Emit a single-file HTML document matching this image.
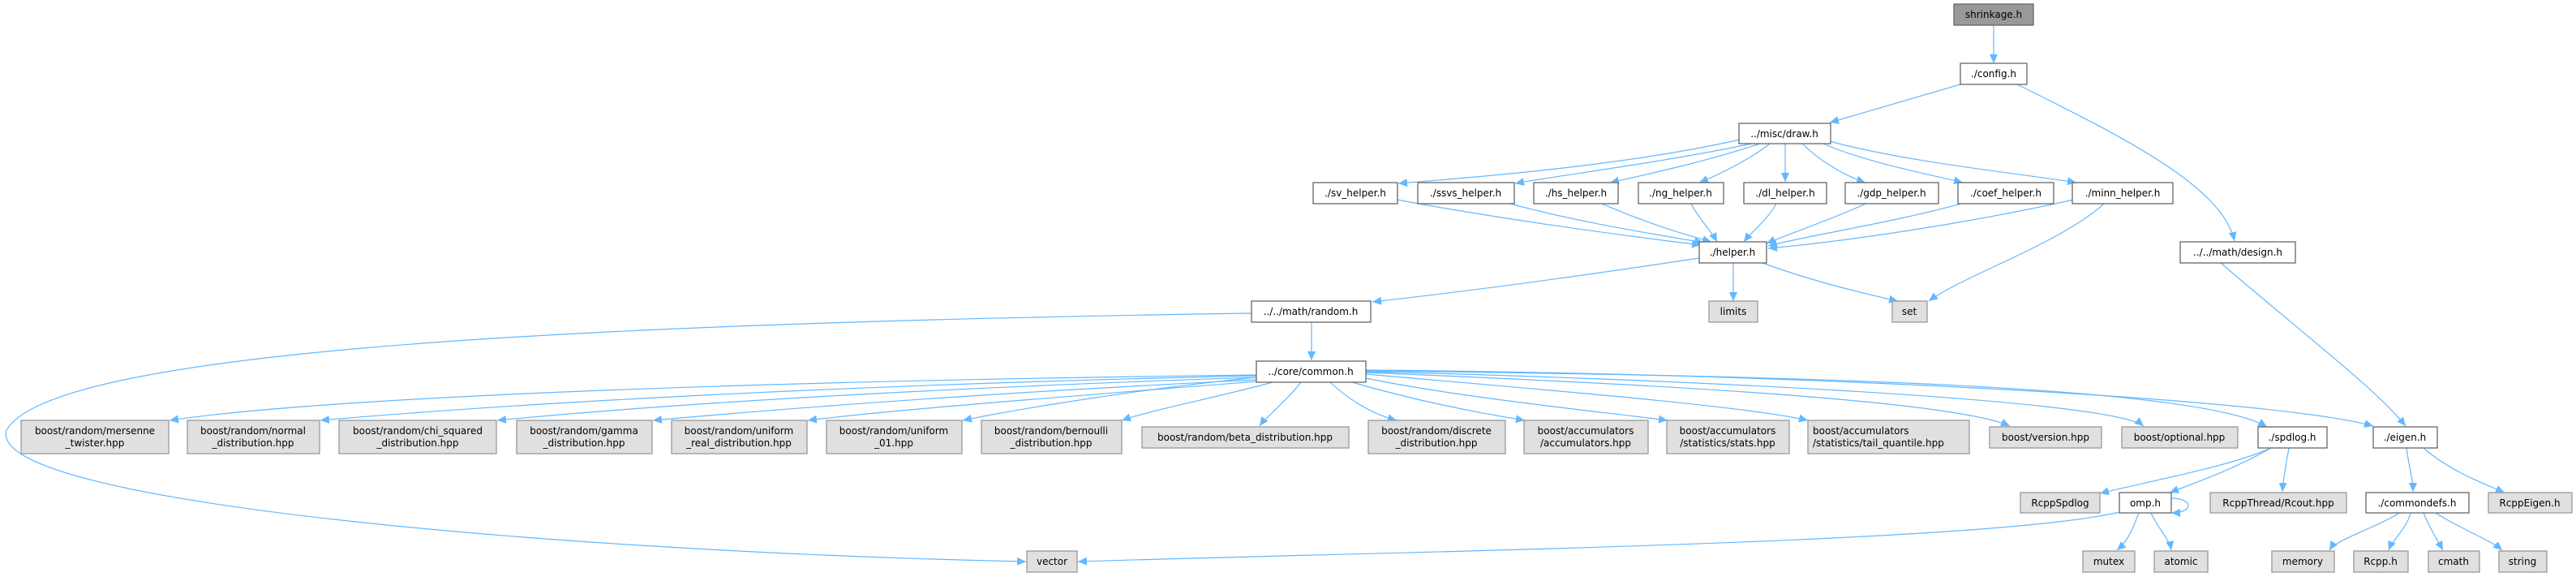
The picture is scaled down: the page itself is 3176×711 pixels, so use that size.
<!DOCTYPE html>
<html><head><meta charset="utf-8"><style>
html,body{margin:0;padding:0;background:#fff;}
svg{display:block;}
text{font-family:"DejaVu Sans","Liberation Sans",sans-serif;font-size:12px;fill:#000;}
.w{fill:#fff;stroke:#666;stroke-width:1.3;}
.g{fill:#e0e0e0;stroke:#999;stroke-width:1.3;}
.e{fill:none;stroke:#63b8ff;stroke-width:1.2;}
</style></head><body>
<svg width="3176" height="711" viewBox="0 0 3176 711" xmlns="http://www.w3.org/2000/svg">
<defs><marker id="a" markerUnits="userSpaceOnUse" markerWidth="12" markerHeight="10" refX="11" refY="5" orient="auto"><path d="M0,0 L11,5 L0,10 z" fill="#63b8ff"/></marker></defs>
<g class="e" marker-end="url(#a)">
<path d="M2458,31 L2458,78"/>
<path d="M2417,104 L2256,151"/>
<path d="M2487,104 C2620,170 2740,230 2755,297"/>
<path d="M2145,172 C2000,205 1800,220 1724,226"/>
<path d="M2160,177 C2050,200 1930,215 1868,226"/>
<path d="M2170,177 C2100,200 2030,215 1985,225"/>
<path d="M2182,177 C2160,195 2120,215 2095,225"/>
<path d="M2201,177 L2201,224"/>
<path d="M2222,177 C2240,195 2270,215 2300,225"/>
<path d="M2248,177 C2300,200 2380,215 2420,225"/>
<path d="M2256,174 C2350,200 2500,215 2560,225"/>
<path d="M1722,246 C1850,270 2000,290 2097,302"/>
<path d="M1862,251 C1950,275 2050,290 2100,299"/>
<path d="M1975,251 C2030,275 2080,290 2110,298"/>
<path d="M2085,251 C2095,270 2110,285 2117,298"/>
<path d="M2190,251 C2180,270 2160,285 2150,298"/>
<path d="M2300,251 C2260,270 2200,290 2178,300"/>
<path d="M2418,251 C2330,275 2230,290 2180,303"/>
<path d="M2557,246 C2450,270 2300,295 2180,306"/>
<path d="M2594,251 C2540,300 2420,340 2378,371"/>
<path d="M2095,318 C1950,340 1800,360 1692,372"/>
<path d="M2137,324 L2137,371"/>
<path d="M2173,324 C2230,345 2290,360 2340,371"/>
<path d="M1617,397 L1617,444"/>
<path d="M1543,386 C600,400 60,440 8,530 C-20,620 700,680 1265,692"/>
<path d="M2613,631 C2450,670 1700,680 1329,692"/>
<path d="M2738,324 C2850,420 2930,480 2966,525"/>
<path d="M1549,462 C900,470 400,490 209,518"/>
<path d="M1549,463 C1000,475 600,500 395,518"/>
<path d="M1549,465 C1100,480 800,500 613,518"/>
<path d="M1549,468 C1200,485 950,505 805,518"/>
<path d="M1549,470 C1300,490 1100,505 996,518"/>
<path d="M1549,465 C1400,480 1250,505 1187,518"/>
<path d="M1569,471 C1500,490 1420,505 1383,518"/>
<path d="M1604,471 C1590,490 1560,515 1553,525"/>
<path d="M1640,471 C1660,490 1690,510 1722,518"/>
<path d="M1667,471 C1750,495 1830,510 1880,518"/>
<path d="M1684,466 C1800,490 1980,508 2056,518"/>
<path d="M1684,461 C1900,480 2150,500 2229,518"/>
<path d="M1684,459 C1950,470 2400,490 2478,525"/>
<path d="M1684,458 C2000,465 2600,490 2643,525"/>
<path d="M1684,457 C2100,462 2700,470 2795,526"/>
<path d="M1684,456 C2200,460 2800,490 2926,525"/>
<path d="M2800,552 C2750,575 2640,595 2589,608"/>
<path d="M2800,552 C2760,575 2720,590 2675,607"/>
<path d="M2822,552 C2818,575 2815,590 2814,606"/>
<path d="M2677,614 C2705,614 2705,632 2677,632"/>
<path d="M2637,632 C2630,650 2625,665 2610,678"/>
<path d="M2652,632 C2660,650 2675,665 2677,678"/>
<path d="M2967,552 C2970,575 2975,590 2975,606"/>
<path d="M2988,552 C3020,580 3060,595 3088,607"/>
<path d="M2958,632 C2930,650 2880,665 2872,678"/>
<path d="M2972,632 C2968,650 2950,665 2945,678"/>
<path d="M2988,632 C2995,650 3005,665 3012,678"/>
<path d="M3003,632 C3030,650 3070,665 3085,678"/>
</g>
<g>
<rect x="2409" y="5" width="98" height="26" fill="#999" stroke="#666" stroke-width="1.3"/><text x="2458" y="22" text-anchor="middle">shrinkage.h</text>
<rect class="w" x="2417" y="78" width="82" height="26"/><text x="2458" y="95" text-anchor="middle">./config.h</text>
<rect class="w" x="2144" y="152" width="113" height="25"/><text x="2200" y="169" text-anchor="middle">../misc/draw.h</text>
<rect class="w" x="1619" y="225" width="104" height="26"/><text x="1671" y="242" text-anchor="middle">./sv_helper.h</text>
<rect class="w" x="1748" y="225" width="119" height="26"/><text x="1807" y="242" text-anchor="middle">./ssvs_helper.h</text>
<rect class="w" x="1891" y="225" width="104" height="26"/><text x="1943" y="242" text-anchor="middle">./hs_helper.h</text>
<rect class="w" x="2020" y="225" width="105" height="26"/><text x="2072" y="242" text-anchor="middle">./ng_helper.h</text>
<rect class="w" x="2150" y="225" width="102" height="26"/><text x="2201" y="242" text-anchor="middle">./dl_helper.h</text>
<rect class="w" x="2275" y="225" width="115" height="26"/><text x="2332" y="242" text-anchor="middle">./gdp_helper.h</text>
<rect class="w" x="2414" y="225" width="118" height="26"/><text x="2473" y="242" text-anchor="middle">./coef_helper.h</text>
<rect class="w" x="2555" y="225" width="124" height="26"/><text x="2617" y="242" text-anchor="middle">./minn_helper.h</text>
<rect class="w" x="2095" y="298" width="83" height="26"/><text x="2136" y="315" text-anchor="middle">./helper.h</text>
<rect class="w" x="2688" y="298" width="142" height="26"/><text x="2759" y="315" text-anchor="middle">../../math/design.h</text>
<rect class="w" x="1543" y="371" width="147" height="26"/><text x="1616" y="388" text-anchor="middle">../../math/random.h</text>
<rect class="g" x="2107" y="371" width="60" height="26"/><text x="2137" y="388" text-anchor="middle">limits</text>
<rect class="g" x="2333" y="371" width="43" height="26"/><text x="2354" y="388" text-anchor="middle">set</text>
<rect class="w" x="1549" y="445" width="135" height="26"/><text x="1616" y="462" text-anchor="middle">../core/common.h</text>
<rect class="g" x="26" y="518" width="182" height="41"/><text x="117" y="535" text-anchor="middle">boost/random/mersenne</text><text x="117" y="550" text-anchor="middle">_twister.hpp</text>
<rect class="g" x="231" y="518" width="163" height="41"/><text x="312" y="535" text-anchor="middle">boost/random/normal</text><text x="312" y="550" text-anchor="middle">_distribution.hpp</text>
<rect class="g" x="418" y="518" width="194" height="41"/><text x="515" y="535" text-anchor="middle">boost/random/chi_squared</text><text x="515" y="550" text-anchor="middle">_distribution.hpp</text>
<rect class="g" x="637" y="518" width="167" height="41"/><text x="720" y="535" text-anchor="middle">boost/random/gamma</text><text x="720" y="550" text-anchor="middle">_distribution.hpp</text>
<rect class="g" x="828" y="518" width="167" height="41"/><text x="911" y="535" text-anchor="middle">boost/random/uniform</text><text x="911" y="550" text-anchor="middle">_real_distribution.hpp</text>
<rect class="g" x="1019" y="518" width="167" height="41"/><text x="1102" y="535" text-anchor="middle">boost/random/uniform</text><text x="1102" y="550" text-anchor="middle">_01.hpp</text>
<rect class="g" x="1210" y="518" width="173" height="41"/><text x="1296" y="535" text-anchor="middle">boost/random/bernoulli</text><text x="1296" y="550" text-anchor="middle">_distribution.hpp</text>
<rect class="g" x="1408" y="526" width="255" height="26"/><text x="1535" y="543" text-anchor="middle">boost/random/beta_distribution.hpp</text>
<rect class="g" x="1687" y="518" width="169" height="41"/><text x="1771" y="535" text-anchor="middle">boost/random/discrete</text><text x="1771" y="550" text-anchor="middle">_distribution.hpp</text>
<rect class="g" x="1879" y="518" width="153" height="41"/><text x="1955" y="535" text-anchor="middle">boost/accumulators</text><text x="1955" y="550" text-anchor="middle">/accumulators.hpp</text>
<rect class="g" x="2055" y="518" width="151" height="41"/><text x="2130" y="535" text-anchor="middle">boost/accumulators</text><text x="2130" y="550" text-anchor="middle">/statistics/stats.hpp</text>
<rect class="g" x="2229" y="518" width="199" height="41"/><text x="2235" y="535">boost/accumulators</text><text x="2235" y="550">/statistics/tail_quantile.hpp</text>
<rect class="g" x="2453" y="526" width="138" height="26"/><text x="2522" y="543" text-anchor="middle">boost/version.hpp</text>
<rect class="g" x="2616" y="526" width="143" height="26"/><text x="2687" y="543" text-anchor="middle">boost/optional.hpp</text>
<rect class="w" x="2784" y="526" width="85" height="26"/><text x="2826" y="543" text-anchor="middle">./spdlog.h</text>
<rect class="w" x="2926" y="526" width="79" height="26"/><text x="2965" y="543" text-anchor="middle">./eigen.h</text>
<rect class="g" x="2491" y="607" width="98" height="25"/><text x="2540" y="624" text-anchor="middle">RcppSpdlog</text>
<rect class="w" x="2613" y="607" width="64" height="25"/><text x="2645" y="624" text-anchor="middle">omp.h</text>
<rect class="g" x="2725" y="607" width="168" height="25"/><text x="2809" y="624" text-anchor="middle">RcppThread/Rcout.hpp</text>
<rect class="w" x="2917" y="607" width="127" height="25"/><text x="2980" y="624" text-anchor="middle">./commondefs.h</text>
<rect class="g" x="3068" y="607" width="103" height="25"/><text x="3119" y="624" text-anchor="middle">RcppEigen.h</text>
<rect class="g" x="2568" y="679" width="64" height="26"/><text x="2600" y="696" text-anchor="middle">mutex</text>
<rect class="g" x="2656" y="679" width="66" height="26"/><text x="2689" y="696" text-anchor="middle">atomic</text>
<rect class="g" x="2801" y="679" width="77" height="26"/><text x="2839" y="696" text-anchor="middle">memory</text>
<rect class="g" x="2902" y="679" width="67" height="26"/><text x="2935" y="696" text-anchor="middle">Rcpp.h</text>
<rect class="g" x="2994" y="679" width="63" height="26"/><text x="3025" y="696" text-anchor="middle">cmath</text>
<rect class="g" x="3081" y="679" width="59" height="26"/><text x="3110" y="696" text-anchor="middle">string</text>
<rect class="g" x="1266" y="679" width="62" height="26"/><text x="1297" y="696" text-anchor="middle">vector</text>
</g>
</svg>
</body></html>
